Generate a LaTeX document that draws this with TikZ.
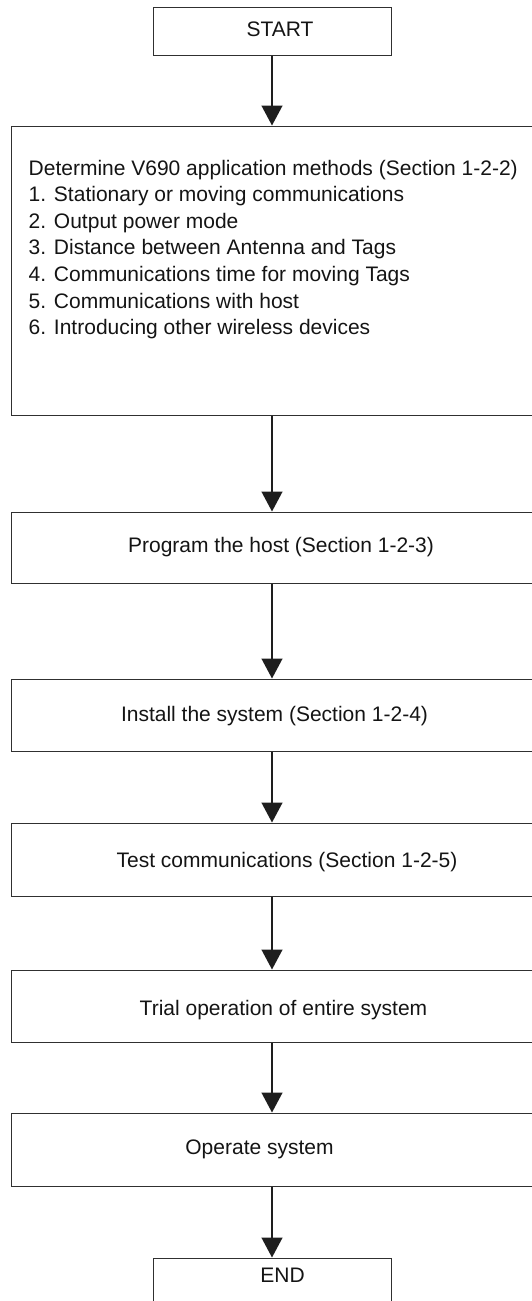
\documentclass[tikz,border=0pt]{standalone}
\usepackage{fontspec}
\setmainfont{Liberation Sans}
\usetikzlibrary{arrows.meta}
\definecolor{boxline}{HTML}{303030}
\definecolor{arrline}{HTML}{1E1E1E}
\definecolor{ink}{HTML}{141414}
\tikzset{
  box/.style={draw=boxline, line width=1pt, rectangle, inner sep=0pt, fill=none},
  widebox/.style={box, minimum width=522pt},
  endbox/.style={box, minimum width=238pt, minimum height=48pt},
  arr/.style={draw=arrline, line width=1.4pt, -{Triangle[length=20pt,width=21pt]}},
  lbl/.style={text=ink, inner sep=0pt, anchor=base, font=\fontsize{21}{26.6}\selectfont},
}
\begin{document}
\begin{tikzpicture}[x=1pt,y=-1pt]
\useasboundingbox (0,0) rectangle (532,1301);
% boxes
\node[endbox] (start) at (272,31) {};
\node[widebox, minimum height=289pt] (det) at (272,270.5) {};
\node[widebox, minimum height=71pt] (prog) at (272,547.5) {};
\node[widebox, minimum height=72pt] (inst) at (272,715) {};
\node[widebox, minimum height=73pt] (test) at (272,859.5) {};
\node[widebox, minimum height=72pt] (trial) at (272,1006) {};
\node[widebox, minimum height=73pt] (oper) at (272,1149.5) {};
\node[endbox] (end) at (272,1282) {};
% texts
\node[lbl] (tstart) at (280,36) {START};
\node[lbl, anchor=base west] (tdet) at (28.5,175) {\begin{tabular}[t]{@{}l@{}}Determine V690 application methods (Section 1-2-2)\\
1. Stationary or moving communications\\
2. Output power mode\\
3. Distance between Antenna and Tags\\
4. Communications time for moving Tags\\
5. Communications with host\\
6. Introducing other wireless devices\end{tabular}};
\node[lbl] (tprog) at (281,552.7) {Program the host (Section 1-2-3)};
\node[lbl] (tinst) at (274.5,721) {Install the system (Section 1-2-4)};
\node[lbl] (ttest) at (287,867.7) {Test communications (Section 1-2-5)};
\node[lbl] (ttrial) at (283.5,1015.7) {Trial operation of entire system};
\node[lbl] (toper) at (259.5,1154) {Operate system};
\node[lbl] (tend) at (282.5,1282) {END};
% connectors
\draw[arr] (start.south) -- (det.north);
\draw[arr] (det.south) -- (prog.north);
\draw[arr] (prog.south) -- (inst.north);
\draw[arr] (inst.south) -- (test.north);
\draw[arr] (test.south) -- (trial.north);
\draw[arr] (trial.south) -- (oper.north);
\draw[arr] (oper.south) -- (end.north);
\end{tikzpicture}
\end{document}
